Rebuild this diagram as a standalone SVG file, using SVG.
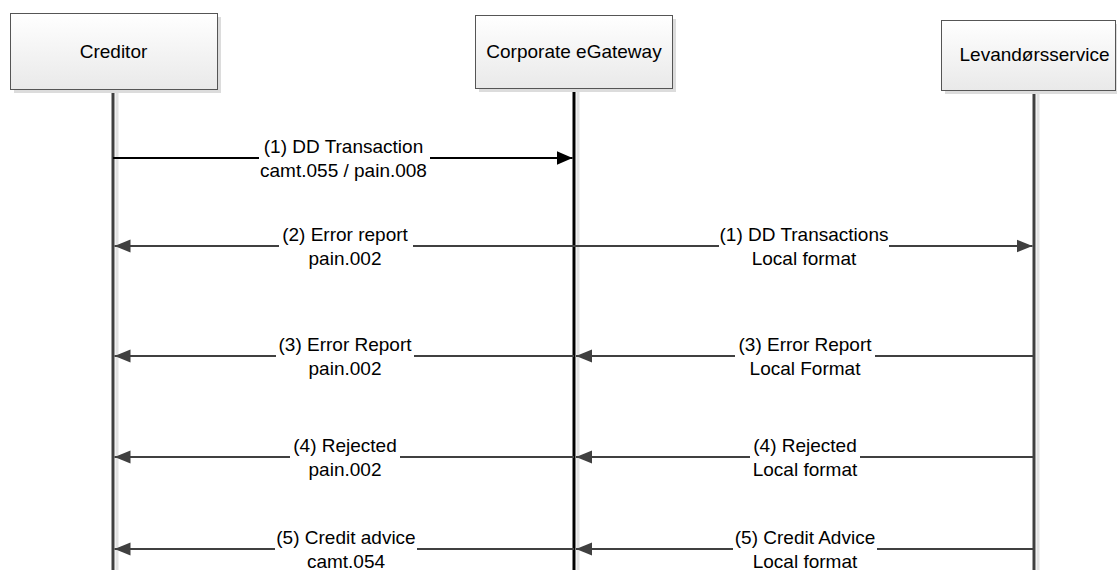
<svg xmlns="http://www.w3.org/2000/svg" width="1117" height="570" viewBox="0 0 1117 570">
<defs>
<linearGradient id="boxg" x1="0" y1="0" x2="0" y2="1">
<stop offset="0" stop-color="#ffffff"/>
<stop offset="1" stop-color="#e9e9e9"/>
</linearGradient>
<marker id="ahb" markerUnits="userSpaceOnUse" markerWidth="17" markerHeight="15" refX="16" refY="7" orient="auto">
<path d="M0,0 L16,7 L0,14 z" fill="#000"/>
</marker>
<marker id="ahg" markerUnits="userSpaceOnUse" markerWidth="17" markerHeight="15" refX="16" refY="7" orient="auto">
<path d="M0,0.5 L16,7 L0,13.5 z" fill="#404040"/>
</marker>
<style>
.box{fill:url(#boxg);stroke:#555;stroke-width:1}
.shadow{fill:#dcdcdc}
.lshadow{stroke:#e2e2e2;stroke-width:3}
.life{stroke:#404040;stroke-width:3}
.lifeb{stroke:#000;stroke-width:3}
.t{font-family:"Liberation Sans",Arial,sans-serif;font-size:19px;fill:#000;text-anchor:middle}
.ab{stroke:#000;stroke-width:2;fill:none;marker-end:url(#ahb)}
.ag{stroke:#404040;stroke-width:2;fill:none;marker-end:url(#ahg)}
.bg{fill:#fff}
</style>
</defs>
<rect width="1117" height="570" fill="#fff"/>
<g id="lifelines">
<line class="lshadow" x1="117" y1="92" x2="117" y2="570"/>
<line class="lshadow" x1="578" y1="92" x2="578" y2="570"/>
<line class="lshadow" x1="1038" y1="92" x2="1038" y2="570"/>
<line class="life" x1="113" y1="89" x2="113" y2="570"/>
<line class="lifeb" x1="574" y1="88" x2="574" y2="570"/>
<line class="life" x1="1034" y1="90" x2="1034" y2="570"/>
</g>
<g id="creditor">
<rect class="shadow" x="14" y="17" width="207" height="76"/>
<rect class="box" x="10.5" y="13.5" width="207" height="76"/>
<text class="t" x="113.5" y="58">Creditor</text>
</g>
<g id="gateway">
<rect class="shadow" x="479" y="19" width="197" height="73"/>
<rect class="box" x="475.5" y="15.5" width="197" height="73"/>
<text class="t" x="574" y="58">Corporate eGateway</text>
</g>
<g id="levandors">
<rect class="shadow" x="945" y="24" width="180" height="70"/>
<rect class="box" x="941.5" y="20.5" width="174" height="70"/>
<text class="t" x="1034.5" y="61">Levandørsservice</text>
</g>
<g id="connectors">
<line class="ab" x1="113" y1="158" x2="572.5" y2="158"/>
<line class="ag" x1="574" y1="246" x2="114.5" y2="246"/>
<line class="ag" x1="574" y1="246" x2="1032.5" y2="246"/>
<line class="ag" x1="574" y1="356" x2="114.5" y2="356"/>
<line class="ag" x1="1034" y1="356" x2="576" y2="356"/>
<line class="ag" x1="574" y1="457" x2="114.5" y2="457"/>
<line class="ag" x1="1034" y1="457" x2="576" y2="457"/>
<line class="ag" x1="574" y1="549" x2="114.5" y2="549"/>
<line class="ag" x1="1034" y1="549" x2="576" y2="549"/>
</g>
<g id="labels">
<rect class="bg" x="259" y="153" width="171" height="10"/>
<text class="t" x="343.5" y="153">(1) DD Transaction</text>
<text class="t" x="343.5" y="177">camt.055 / pain.008</text>

<rect class="bg" x="279" y="241" width="134" height="10"/>
<text class="t" x="345" y="241">(2) Error report</text>
<text class="t" x="345" y="265">pain.002</text>

<rect class="bg" x="719" y="241" width="170" height="10"/>
<text class="t" x="804" y="241">(1) DD Transactions</text>
<text class="t" x="804" y="265">Local format</text>

<rect class="bg" x="276" y="351" width="138" height="10"/>
<text class="t" x="345" y="351">(3) Error Report</text>
<text class="t" x="345" y="375">pain.002</text>

<rect class="bg" x="735" y="351" width="140" height="10"/>
<text class="t" x="805" y="351">(3) Error Report</text>
<text class="t" x="805" y="375">Local Format</text>

<rect class="bg" x="290" y="452" width="110" height="10"/>
<text class="t" x="345" y="452">(4) Rejected</text>
<text class="t" x="345" y="476">pain.002</text>

<rect class="bg" x="750" y="452" width="110" height="10"/>
<text class="t" x="805" y="452">(4) Rejected</text>
<text class="t" x="805" y="476">Local format</text>

<rect class="bg" x="275" y="544" width="142" height="10"/>
<text class="t" x="346" y="544">(5) Credit advice</text>
<text class="t" x="346" y="568">camt.054</text>

<rect class="bg" x="733" y="544" width="144" height="10"/>
<text class="t" x="805" y="544">(5) Credit Advice</text>
<text class="t" x="805" y="568">Local format</text>
</g>
</svg>
